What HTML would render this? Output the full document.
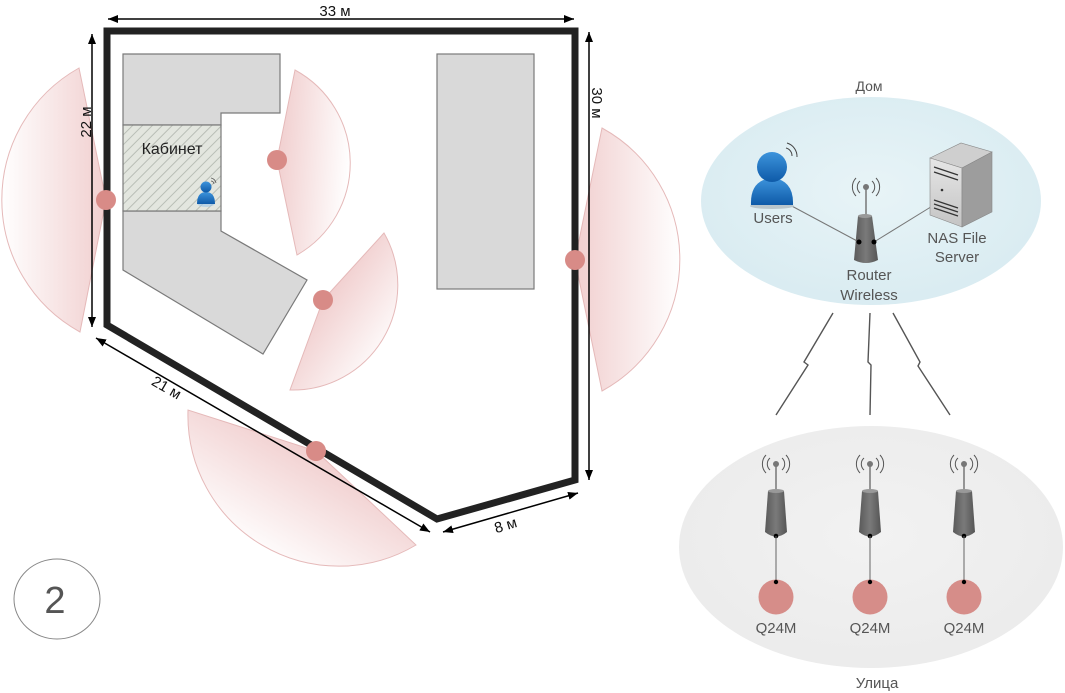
<!DOCTYPE html>
<html><head><meta charset="utf-8"><style>
html,body{margin:0;padding:0;background:#fff;}
svg{display:block;}
text{font-family:"Liberation Sans",Arial,sans-serif;}
</style></head><body>
<svg width="1065" height="693" viewBox="0 0 1065 693" xmlns="http://www.w3.org/2000/svg">
<defs>
<marker id="ar" viewBox="0 0 10 8" refX="10" refY="4" markerWidth="10" markerHeight="8" markerUnits="userSpaceOnUse" orient="auto-start-reverse"><path d="M0,0 L10,4 L0,8 z" fill="#000"/></marker>
<pattern id="hatch" patternUnits="userSpaceOnUse" width="7" height="7" patternTransform="rotate(45)">
<rect width="7" height="7" fill="#e3e6df"/><line x1="0" y1="0" x2="0" y2="7" stroke="#b9beb6" stroke-width="2"/></pattern>
<linearGradient id="g1" gradientUnits="userSpaceOnUse" x1="106" y1="200" x2="1" y2="200"><stop offset="0" stop-color="#f1cfcf"/><stop offset="1" stop-color="#fff"/></linearGradient>
<linearGradient id="g2" gradientUnits="userSpaceOnUse" x1="277" y1="160" x2="350" y2="165"><stop offset="0" stop-color="#f1cfcf"/><stop offset="1" stop-color="#fff"/></linearGradient>
<linearGradient id="g3" gradientUnits="userSpaceOnUse" x1="323" y1="300" x2="395" y2="350"><stop offset="0" stop-color="#f1cfcf"/><stop offset="1" stop-color="#fff"/></linearGradient>
<linearGradient id="g4" gradientUnits="userSpaceOnUse" x1="316" y1="451" x2="255" y2="555"><stop offset="0" stop-color="#f1cfcf"/><stop offset="1" stop-color="#fff"/></linearGradient>
<linearGradient id="g5" gradientUnits="userSpaceOnUse" x1="575" y1="260" x2="681" y2="260"><stop offset="0" stop-color="#f1cfcf"/><stop offset="1" stop-color="#fff"/></linearGradient>
<radialGradient id="blue" cx="0.5" cy="0.45" r="0.6"><stop offset="0" stop-color="#e8f4f7"/><stop offset="1" stop-color="#d8ebf1"/></radialGradient>
<radialGradient id="grey" cx="0.5" cy="0.45" r="0.6"><stop offset="0" stop-color="#f2f2f2"/><stop offset="1" stop-color="#ebebeb"/></radialGradient>
<linearGradient id="ub" x1="0" y1="0" x2="0" y2="1"><stop offset="0" stop-color="#3d94dc"/><stop offset="1" stop-color="#0e5aa8"/></linearGradient>
<linearGradient id="rt" x1="0" y1="0" x2="1" y2="0"><stop offset="0" stop-color="#5a5a5a"/><stop offset="0.5" stop-color="#7a7a7a"/><stop offset="1" stop-color="#555"/></linearGradient>
<linearGradient id="sf" x1="0" y1="0" x2="0" y2="1"><stop offset="0" stop-color="#e6e6e6"/><stop offset="1" stop-color="#c4c4c4"/></linearGradient>
</defs>

<!-- sectors -->
<g stroke="#e5b9b9" stroke-width="1">
<path d="M106,200 L79,68 A151,151 0 0 0 80,332 Z" fill="url(#g1)"/>
<path d="M277,160 L295,70 A106,106 0 0 1 297,255 Z" fill="url(#g2)"/>
<path d="M323,300 L384,233 A105,105 0 0 1 290,390 Z" fill="url(#g3)"/>
<path d="M316,451 L188,410 A151,151 0 0 0 416,545 Z" fill="url(#g4)"/>
<path d="M575,260 L602,128 A150,150 0 0 1 602,391 Z" fill="url(#g5)"/>
</g>

<!-- furniture -->
<g stroke="#7a7a7a" stroke-width="1.2" fill="#d9d9d9">
<polygon points="123,54 280,54 280,113 221,113 221,125 123,125"/>
<polygon points="123,211 221,211 221,231 307,280 263,354 123,270"/>
<rect x="437" y="54" width="97" height="235"/>
<rect x="123" y="125" width="98" height="86" fill="url(#hatch)"/>
</g>
<text x="172" y="154" font-size="16" text-anchor="middle" fill="#222">Кабинет</text>
<!-- small user -->
<g>
<ellipse cx="206" cy="203" rx="9" ry="4" fill="#9fc7e8" opacity="0.6"/>
<path d="M197,204 Q197,192 206,192 Q215,192 215,204 Z" fill="url(#ub)"/>
<circle cx="206" cy="187" r="5.5" fill="url(#ub)"/>
<path d="M211,178 A6,6 0 0 1 216,183" fill="none" stroke="#555" stroke-width="0.8"/>
<path d="M211,181 A3,3 0 0 1 214,184" fill="none" stroke="#555" stroke-width="0.8"/>
</g>

<!-- walls -->
<polygon points="107,31 575,31 575,480 437,519 107,325" fill="none" stroke="#222" stroke-width="7" stroke-linejoin="miter"/>

<!-- dimension lines -->
<g stroke="#000" stroke-width="1.5" fill="none">
<line x1="108" y1="19" x2="574" y2="19" marker-start="url(#ar)" marker-end="url(#ar)"/>
<line x1="92" y1="34" x2="92" y2="327" marker-start="url(#ar)" marker-end="url(#ar)"/>
<line x1="589" y1="32" x2="589" y2="480" marker-start="url(#ar)" marker-end="url(#ar)"/>
<line x1="96" y1="338" x2="430" y2="532" marker-start="url(#ar)" marker-end="url(#ar)"/>
<line x1="443" y1="532" x2="578" y2="493" marker-start="url(#ar)" marker-end="url(#ar)"/>
</g>
<g font-size="15" fill="#111">
<text x="335" y="16" text-anchor="middle">33 м</text>
<text transform="translate(91,122) rotate(-90)" text-anchor="middle">22 м</text>
<text transform="translate(592,103) rotate(90)" text-anchor="middle">30 м</text>
<text transform="translate(164,392) rotate(30)" text-anchor="middle">21 м</text>
<text transform="translate(507,530) rotate(-16.6)" text-anchor="middle">8 м</text>
</g>

<!-- dots -->
<g fill="#d88b87">
<circle cx="106" cy="200" r="10"/>
<circle cx="277" cy="160" r="10"/>
<circle cx="323" cy="300" r="10"/>
<circle cx="316" cy="451" r="10"/>
<circle cx="575" cy="260" r="10"/>
</g>

<!-- number 2 -->
<ellipse cx="57" cy="599" rx="43" ry="40" fill="#fff" stroke="#888" stroke-width="1"/>
<text x="55" y="613" font-size="38" text-anchor="middle" fill="#555">2</text>

<!-- right: home -->
<text x="869" y="91" font-size="14" text-anchor="middle" fill="#555">Дом</text>
<ellipse cx="871" cy="201" rx="170" ry="104" fill="url(#blue)"/>
<g stroke="#777" stroke-width="1" fill="none">
<line x1="788" y1="204" x2="859" y2="242"/>
<line x1="874" y1="242" x2="934" y2="205"/>
</g>
<!-- user -->
<ellipse cx="772" cy="206" rx="22" ry="3" fill="#b9c6cc"/>
<path d="M751,205 Q750,180 772,178 Q794,180 793,205 Z" fill="url(#ub)"/>
<circle cx="772" cy="167" r="15" fill="url(#ub)"/>
<g stroke="#444" stroke-width="1" fill="none">
<path d="M787,143 A14,14 0 0 1 797,157"/>
<path d="M786,148 A8,8 0 0 1 792,156"/>
</g>
<text x="773" y="223" font-size="15" text-anchor="middle" fill="#555">Users</text>
<!-- router -->
<g>
<line x1="866" y1="188" x2="866" y2="216" stroke="#777" stroke-width="1.5"/>
<circle cx="866" cy="187" r="3" fill="#777"/>
<g stroke="#555" stroke-width="1" fill="none">
<path d="M860,181 A8,8 0 0 0 860,193"/><path d="M872,181 A8,8 0 0 1 872,193"/>
<path d="M856,178 A13,13 0 0 0 856,196"/><path d="M876,178 A13,13 0 0 1 876,196"/>
</g>
<path d="M858,216 L872,216 L878,260 Q866,266 854,260 Z" fill="url(#rt)"/>
<ellipse cx="865" cy="216" rx="7" ry="2" fill="#999"/>
<circle cx="859" cy="242" r="2.5" fill="#000"/><circle cx="874" cy="242" r="2.5" fill="#000"/>
</g>
<text x="869" y="280" font-size="15" text-anchor="middle" fill="#555">Router</text>
<text x="869" y="300" font-size="15" text-anchor="middle" fill="#555">Wireless</text>
<!-- server -->
<g stroke="#888" stroke-width="0.6">
<polygon points="930,158 961,143 992,152 962,168" fill="#cfcfcf"/>
<polygon points="930,158 962,168 962,227 930,215" fill="url(#sf)"/>
<polygon points="962,168 992,152 992,212 962,227" fill="#9d9d9d"/>
</g>
<g stroke="#333" stroke-width="1.2">
<line x1="934" y1="167" x2="958" y2="175"/>
<line x1="934" y1="172" x2="958" y2="180"/>
<line x1="934" y1="200" x2="958" y2="208"/>
<line x1="934" y1="204" x2="958" y2="212"/>
<line x1="934" y1="208" x2="958" y2="216"/>
</g>
<circle cx="942" cy="190" r="1.3" fill="#333"/>
<text x="957" y="243" font-size="15" text-anchor="middle" fill="#555">NAS File</text>
<text x="957" y="262" font-size="15" text-anchor="middle" fill="#555">Server</text>

<!-- lightning -->
<g stroke="#555" stroke-width="1.4" fill="none" stroke-linejoin="miter">
<polyline points="833,313 804,362 808,365 776,415"/>
<polyline points="870,313 868,362 871,365 870,415"/>
<polyline points="893,313 920,362 918,366 950,415"/>
</g>

<!-- street -->
<ellipse cx="871" cy="547" rx="192" ry="121" fill="url(#grey)"/>
<text x="877" y="688" font-size="15" text-anchor="middle" fill="#555">Улица</text>
<g id="ant">
<line x1="776" y1="465" x2="776" y2="491" stroke="#777" stroke-width="1.5"/>
<circle cx="776" cy="464" r="3" fill="#777"/>
<g stroke="#555" stroke-width="1" fill="none">
<path d="M770,458 A8,8 0 0 0 770,470"/><path d="M782,458 A8,8 0 0 1 782,470"/>
<path d="M766,455 A13,13 0 0 0 766,473"/><path d="M786,455 A13,13 0 0 1 786,473"/>
</g>
<path d="M768,491 L784,491 L787,532 Q776,541 765,532 Z" fill="url(#rt)"/>
<ellipse cx="776" cy="491" rx="8" ry="2" fill="#999"/>
<circle cx="776" cy="536" r="2.3" fill="#000"/>
<line x1="776" y1="536" x2="776" y2="582" stroke="#666" stroke-width="1"/>
<circle cx="776" cy="597" r="17.5" fill="#d68d89"/>
<circle cx="776" cy="582" r="2.2" fill="#000"/>
<text x="776" y="633" font-size="15" text-anchor="middle" fill="#555">Q24M</text>
</g>
<use href="#ant" x="94"/>
<use href="#ant" x="188"/>
</svg>
</body></html>
